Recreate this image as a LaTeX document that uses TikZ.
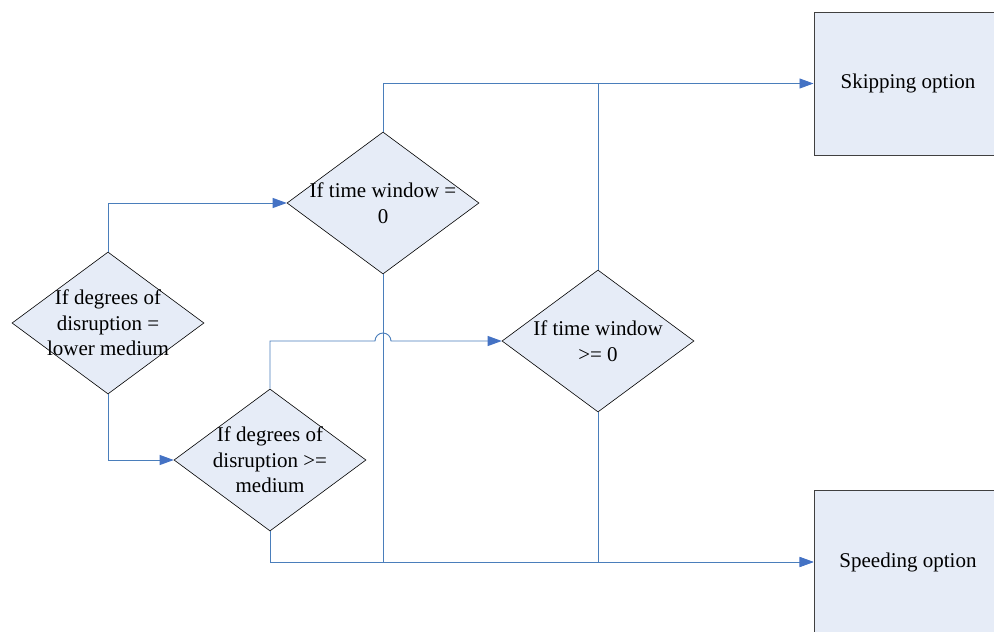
\documentclass[tikz,border=0pt]{standalone}
\usepackage{fontspec}
\setmainfont{Liberation Serif}
\usetikzlibrary{shapes.geometric,arrows.meta}
\definecolor{flowblue}{HTML}{4A7EBB}
\definecolor{tipblue}{HTML}{4472C4}
\definecolor{boxfill}{HTML}{E6ECF7}
\definecolor{boxedge}{HTML}{404040}
\tikzset{
  decision/.style={diamond, draw=black, line width=0.6pt, fill=boxfill,
    minimum width=192pt, minimum height=142pt, inner sep=0pt},
  outcome/.style={rectangle, draw=boxedge, line width=1pt, fill=boxfill,
    minimum width=188pt, minimum height=143pt, inner sep=0pt},
  lbl/.style={align=center, font=\fontsize{21}{25.5}\selectfont, inner sep=0pt},
  flow/.style={draw=flowblue, line width=0.9pt},
  arrowflow/.style={flow, -{Triangle[length=14pt,width=10pt,fill=tipblue,color=tipblue]}}
}
\begin{document}
\begin{tikzpicture}[x=1pt,y=-1pt]
\useasboundingbox (0,0) rectangle (994,632);
\clip (0,0) rectangle (994,632);

% decision diamonds
\node[decision, label={[lbl]center:{If degrees of\\disruption =\\lower medium}}] (lower) at (108,323) {};
\node[decision, label={[lbl]center:{If time window =\\0}}] (twzero) at (383,203) {};
\node[decision, label={[lbl]center:{If degrees of\\disruption >=\\medium}}] (medium) at (270,460) {};
\node[decision, label={[lbl]center:{If time window\\>= 0}}] (twpos) at (598,341) {};

% outcome boxes
\node[outcome, label={[lbl]center:{Skipping option}}] (skip) at (908,83.5) {};
\node[outcome, label={[lbl]center:{Speeding option}}] (speed) at (908,562) {};

% connectors
\draw[arrowflow] (lower.north) |- (twzero.west);
\draw[arrowflow] (lower.south) |- (medium.west);
\draw[arrowflow] (twzero.north) |- (skip.west);
\draw[arrowflow] (twzero.south) |- (speed.west);
\draw[arrowflow] (medium.south) |- (speed.west);
\coordinate (hop) at (twzero.south |- twpos.west);
\draw[arrowflow] (medium.north) |- ([xshift=-8pt]hop)
  arc[start angle=180, end angle=360, radius=8] -- (twpos.west);
\draw[flow] (twpos.north) -- (twpos.north |- skip.west);
\draw[flow] (twpos.south) -- (twpos.south |- speed.west);
\end{tikzpicture}
\end{document}
